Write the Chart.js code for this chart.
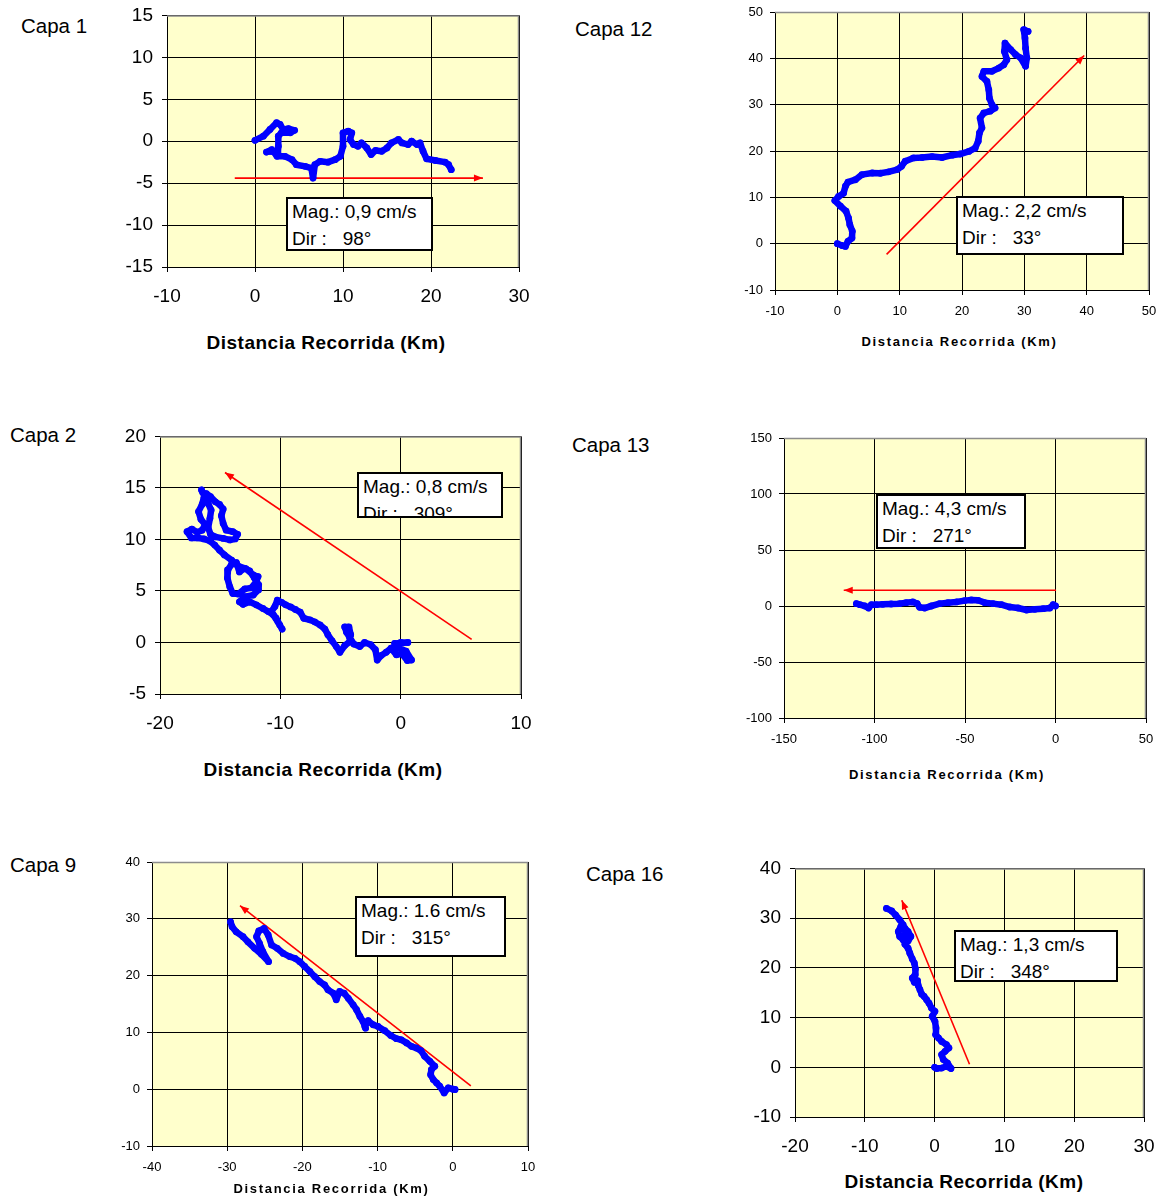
<!DOCTYPE html>
<html>
<head>
<meta charset="utf-8">
<script src="https://cdn.jsdelivr.net/npm/chart.js@4.4.1/dist/chart.umd.min.js"></script>
<style>
  body { margin:0; background:#fff; width:1163px; height:1197px; position:relative; overflow:hidden;
         font-family:'Liberation Sans', Arial, sans-serif; color:#000; }
  canvas { position:absolute; }
  .capa { position:absolute; font-size:20.5px; line-height:20px; white-space:nowrap; }
  .atitle { position:absolute; font-weight:bold; white-space:nowrap; transform:translateX(-50%); }
  .big { font-size:19px; line-height:19px; letter-spacing:0.5px; }
  .small { font-size:13px; line-height:13px; letter-spacing:1.7px; }
  .note { position:absolute; background:#fff; border:2px solid #000; box-sizing:border-box; overflow:hidden;
          font-size:19px; line-height:27px; padding-left:4px; white-space:pre; }
  .note div { position:relative; top:-1px; }
</style>
</head>
<body>
<script>
// ---- Progressive vector paths (km east, km north) ----
const capa1Path = [[0,0.1],[0.95,0.6],[1.7,1.4],[2.45,2.2],[2.85,2.0],[3.2,1.4],[3.8,1.5],[4.5,1.3],[4.0,1.0],[3.0,1.0],[2.65,0.6],[2.65,-0.6],[2.6,-1.4],[1.7,-1.2],[1.3,-1.3],[1.9,-1.0],[2.5,-1.8],[3.4,-1.8],[4.2,-2.2],[4.7,-2.8],[5.7,-3.0],[6.4,-3.2],[6.6,-4.4],[6.8,-2.8],[7.4,-2.4],[8.3,-2.5],[9.1,-2.2],[9.7,-1.8],[10.0,-0.6],[10.0,1.0],[10.6,1.2],[11.0,1.0],[10.8,0.2],[11.2,-0.4],[11.7,-0.6],[12.1,-0.2],[12.7,-0.8],[13.2,-1.6],[13.7,-1.1],[14.4,-1.2],[15.0,-0.8],[15.5,-0.2],[16.3,0.2],[16.7,-0.2],[17.4,-0.4],[17.8,0],[18.4,-0.4],[18.75,-0.2],[19.1,-1.2],[19.5,-2.1],[20.5,-2.3],[21.6,-2.5],[22.0,-2.8],[22.3,-3.4]];

const capa12Path = [[0,0],[0.75,-0.4],[1.3,-0.6],[1.7,0.5],[2.35,1.2],[2.4,2.7],[2.0,4.1],[1.8,5.5],[1.4,7.0],[0.5,8.1],[-0.4,9.3],[0.2,10.2],[1.0,10.9],[1.3,12.4],[1.7,13.3],[2.9,13.8],[3.95,14.9],[5.6,15.25],[6.9,15.2],[8.2,15.5],[9.6,16.0],[10.3,16.7],[10.9,17.8],[12.2,18.5],[13.6,18.6],[15.2,18.8],[16.8,18.6],[18.4,19.1],[19.7,19.35],[21.1,19.9],[22.1,20.6],[22.6,22.1],[22.8,23.9],[23.2,25.0],[22.9,27.1],[23.5,28.2],[24.5,28.6],[25.3,29.3],[24.8,30.0],[24.4,31.4],[24.3,33.2],[24.0,35.0],[23.2,36.1],[23.5,37.2],[24.8,37.2],[25.9,37.9],[26.7,38.6],[27.2,39.7],[26.8,41.5],[26.9,43.3],[27.8,41.9],[28.6,40.8],[29.4,40.1],[30.2,38.3],[30.4,40.1],[30.2,42.2],[30.1,44.4],[29.9,46.2],[30.6,45.8]];

const capa2Path = [[0,0],[0.6,0],[-0.5,-0.1],[-0.1,-0.55],[0.45,-0.85],[0.9,-1.7],[0.55,-1.75],[0.1,-1.1],[-0.35,-1.2],[-0.8,-0.55],[-1.2,-0.95],[-1.6,-1.25],[-1.95,-1.7],[-2.1,-0.7],[-2.5,-0.2],[-3.0,0],[-3.4,-0.4],[-3.9,-0.15],[-4.25,0.5],[-4.5,1.0],[-4.65,1.5],[-4.3,1.5],[-4.15,0.75],[-4.25,0.05],[-4.65,-0.3],[-5.05,-0.95],[-5.35,-0.4],[-5.7,0.15],[-6.05,0.75],[-6.3,1.3],[-6.7,1.7],[-7.15,2.0],[-7.55,2.2],[-8.05,2.35],[-8.35,2.95],[-8.75,3.2],[-9.15,3.45],[-9.55,3.65],[-9.9,3.9],[-10.25,4.1],[-10.45,3.5],[-10.75,3.0],[-10.35,2.35],[-10.05,1.7],[-9.85,1.3],[-10.2,2.0],[-10.6,2.7],[-11.0,3.0],[-11.45,3.3],[-12.0,3.65],[-12.55,3.95],[-13.1,3.7],[-13.4,3.95],[-12.95,4.45],[-12.25,4.6],[-11.85,5.1],[-11.8,5.6],[-12.15,6.25],[-12.55,6.95],[-12.95,7.2],[-13.4,6.85],[-13.65,7.75],[-14.05,7.6],[-14.35,7.05],[-14.4,6.25],[-14.2,5.4],[-13.95,4.75],[-13.5,4.7],[-12.95,5.2],[-12.4,5.3],[-12.0,5.9],[-11.85,6.4],[-12.25,6.55],[-12.85,7.15],[-13.55,7.45],[-14.05,8.0],[-14.65,8.5],[-15.05,8.95],[-15.45,9.45],[-15.85,9.85],[-16.35,10.05],[-16.85,10.15],[-17.4,10.15],[-17.75,10.75],[-17.35,11.0],[-16.9,10.7],[-16.5,10.9],[-16.25,11.45],[-16.6,11.95],[-16.8,12.7],[-16.5,13.4],[-16.35,14.05],[-16.15,14.45],[-15.8,14.15],[-15.4,13.65],[-15.05,13.4],[-14.75,12.95],[-14.9,12.3],[-14.75,11.55],[-14.5,10.9],[-13.95,10.75],[-13.55,10.5],[-13.75,10.05],[-14.2,9.95],[-14.75,10.1],[-15.4,10.25],[-15.8,10.5],[-16.0,11.15],[-15.85,12.05],[-15.75,12.85],[-16.0,13.5],[-16.25,14.15],[-16.45,14.55],[-16.55,14.8]];

const capa13Path = [[0,0],[-1.3,1.2],[-3.1,-1.8],[-6.8,-2.4],[-11.4,-3.0],[-16.0,-3.6],[-20.7,-1.8],[-25.3,-0.9],[-29.9,1.2],[-34.5,2.1],[-39.1,3.0],[-42.8,5.1],[-46.5,5.4],[-50.2,4.8],[-54.8,3.6],[-59.4,3.0],[-64.0,2.1],[-68.6,0],[-72.3,-1.8],[-75.1,-1.2],[-76.4,2.1],[-78.8,3.6],[-82.5,3.0],[-86.2,2.1],[-90.8,1.8],[-95.4,1.5],[-99.1,1.2],[-101.7,1.2],[-103.3,-1.8],[-105.3,0],[-108.1,1.2],[-110.0,2.1]];

const capa9Path = [[0,0],[0.3,-0.05],[-0.6,0.25],[-1.15,-0.65],[-1.75,0.55],[-2.15,1.1],[-2.6,1.7],[-2.95,2.55],[-2.85,3.45],[-2.4,4.05],[-3.05,4.9],[-3.75,5.8],[-4.25,6.8],[-4.85,7.25],[-5.5,7.55],[-6.15,8.15],[-6.85,8.7],[-7.5,8.9],[-8.25,9.45],[-9.05,10.3],[-9.95,11.05],[-10.6,11.35],[-11.25,12.05],[-11.7,11.05],[-11.6,10.75],[-11.95,11.95],[-12.35,12.8],[-12.8,14.0],[-13.25,14.85],[-13.9,16.0],[-14.45,16.9],[-15.05,17.2],[-15.5,15.75],[-15.9,16.9],[-16.6,17.5],[-17.05,18.35],[-17.7,18.95],[-18.35,19.8],[-19.0,20.7],[-19.7,21.6],[-20.35,22.45],[-21.0,23.05],[-21.7,23.35],[-22.55,23.9],[-23.35,24.8],[-24.1,25.4],[-24.55,27.15],[-25.1,28.3],[-25.8,27.85],[-26.1,26.85],[-25.7,25.65],[-25.25,24.2],[-24.5,22.45],[-25.45,23.75],[-26.35,24.8],[-27.25,25.95],[-27.9,26.85],[-28.8,27.7],[-29.35,28.6],[-29.55,29.45]];

const capa16Path = [[0,0],[0.3,-0.25],[1.0,-0.15],[1.7,0.2],[2.35,-0.25],[1.85,0.85],[1.25,1.55],[1.0,2.55],[1.5,3.2],[2.05,3.9],[1.7,4.55],[1.0,5.2],[0.55,5.9],[0.15,6.55],[0.2,7.9],[0.05,9.25],[-0.35,10.25],[0.05,11.25],[-0.45,11.9],[-0.8,12.9],[-1.15,13.6],[-1.5,14.25],[-1.85,14.7],[-2.1,15.6],[-2.35,16.45],[-2.45,17.4],[-2.9,17.1],[-3.2,17.95],[-2.8,18.6],[-2.75,19.8],[-2.9,20.95],[-3.2,21.8],[-3.55,22.95],[-3.8,23.95],[-4.25,24.75],[-3.8,25.4],[-3.4,26.3],[-3.8,27.3],[-4.25,27.95],[-4.85,28.3],[-5.2,27.3],[-5.0,26.3],[-4.5,25.6],[-4.15,26.95],[-4.5,28.65],[-5.0,29.65],[-5.6,30.65],[-6.15,31.45],[-6.9,31.95]];

// ---- Mean-direction arrows (tail, head) ----
const capa1Arrow  = [[-2.3,-4.4],[25.9,-4.4]];
const capa12Arrow = [[7.9,-2.3],[39.6,40.6]];
const capa2Arrow  = [[5.9,0.3],[-14.6,16.5]];
const capa13Arrow = [[0.3,14],[-117,14]];
const capa9Arrow  = [[2.4,0.6],[-28.3,32.3]];
const capa16Arrow = [[5.0,0.6],[-4.7,33.6]];

// ---- Axis ranges: [min, max, step] ----
const capa1XTicks  = [-10, 30, 10],  capa1YTicks  = [-15, 15, 5];
const capa12XTicks = [-10, 50, 10],  capa12YTicks = [-10, 50, 10];
const capa2XTicks  = [-20, 10, 10],  capa2YTicks  = [-5, 20, 5];
const capa13XTicks = [-150, 50, 50], capa13YTicks = [-100, 150, 50];
const capa9XTicks  = [-40, 10, 10],  capa9YTicks  = [-10, 40, 10];
const capa16XTicks = [-20, 30, 10],  capa16YTicks = [-10, 40, 10];

// ---- Labels ----
const capaNames = ['Capa 1', 'Capa 12', 'Capa 2', 'Capa 13', 'Capa 9', 'Capa 16'];
const magTexts  = ['Mag.: 0,9 cm/s', 'Mag.: 2,2 cm/s', 'Mag.: 0,8 cm/s', 'Mag.: 4,3 cm/s', 'Mag.: 1.6 cm/s', 'Mag.: 1,3 cm/s'];
const dirTexts  = ['Dir :   98°', 'Dir :   33°', 'Dir :   309°', 'Dir :   271°', 'Dir :   315°', 'Dir :   348°'];
const axisTitle = 'Distancia Recorrida (Km)';

// ---- Layout of the six panels ----
const panels = [
  { path: capa1Path,  arrow: capa1Arrow,  xr: capa1XTicks,  yr: capa1YTicks,  area: {x:167, y:15,  w:352, h:252}, big: true,
    name: {x:21,  y:26},  title: {x:326,   y:342},  note: {x:286, y:197, w:147, h:54} },
  { path: capa12Path, arrow: capa12Arrow, xr: capa12XTicks, yr: capa12YTicks, area: {x:775, y:12,  w:374, h:278}, big: false,
    name: {x:575, y:29},  title: {x:959.5, y:341},  note: {x:956, y:196, w:168, h:59} },
  { path: capa2Path,  arrow: capa2Arrow,  xr: capa2XTicks,  yr: capa2YTicks,  area: {x:160, y:436, w:361, h:258}, big: true,
    name: {x:10,  y:435}, title: {x:323,   y:769},  note: {x:357, y:472, w:146, h:46} },
  { path: capa13Path, arrow: capa13Arrow, xr: capa13XTicks, yr: capa13YTicks, area: {x:784, y:438, w:362, h:280}, big: false,
    name: {x:572, y:445}, title: {x:947,   y:774},  note: {x:876, y:494, w:150, h:55} },
  { path: capa9Path,  arrow: capa9Arrow,  xr: capa9XTicks,  yr: capa9YTicks,  area: {x:152, y:862, w:376, h:284}, big: false,
    name: {x:10,  y:865}, title: {x:331.5, y:1188}, note: {x:355, y:896, w:151, h:61} },
  { path: capa16Path, arrow: capa16Arrow, xr: capa16XTicks, yr: capa16YTicks, area: {x:795, y:868, w:349, h:249}, big: true,
    name: {x:586, y:874}, title: {x:964,   y:1181}, note: {x:954, y:930, w:164, h:52} }
];

const FONT = "'Liberation Sans', Arial, sans-serif";

// Plot-area fill, grey frame on top/right and arrowheads
const panelDeco = {
  id: 'panelDeco',
  beforeDraw(chart) {
    const a = chart.chartArea, c = chart.ctx;
    c.save();
    c.fillStyle = '#ffffcc';
    c.fillRect(a.left, a.top, a.right - a.left, a.bottom - a.top);
    c.restore();
  },
  afterDatasetsDraw(chart) {
    const c = chart.ctx;
    chart.data.datasets.forEach((ds, i) => {
      if (!ds.arrowHead) return;
      const pts = chart.getDatasetMeta(i).data;
      const p0 = pts[pts.length - 2], p1 = pts[pts.length - 1];
      const ang = Math.atan2(p1.y - p0.y, p1.x - p0.x);
      const len = 9, hw = 3.5;
      const bx = p1.x - len * Math.cos(ang), by = p1.y - len * Math.sin(ang);
      c.save();
      c.fillStyle = ds.borderColor;
      c.beginPath();
      c.moveTo(p1.x, p1.y);
      c.lineTo(bx - hw * Math.sin(ang), by + hw * Math.cos(ang));
      c.lineTo(bx + hw * Math.sin(ang), by - hw * Math.cos(ang));
      c.closePath();
      c.fill();
      c.restore();
    });
  },
  afterDraw(chart) {
    const a = chart.chartArea, c = chart.ctx;
    c.save();
    c.strokeStyle = '#8c8c8c';
    c.lineWidth = 1.5;
    c.beginPath();
    c.moveTo(a.left, a.top + 0.5);
    c.lineTo(a.right - 0.5, a.top + 0.5);
    c.lineTo(a.right - 0.5, a.bottom);
    c.stroke();
    c.restore();
  }
};

function addDiv(cls, text, css) {
  const d = document.createElement('div');
  d.className = cls;
  d.textContent = text;
  Object.assign(d.style, css);
  document.body.appendChild(d);
  return d;
}

function buildPanel(p, i) {
  const LY = 60, TT = 20, RR = 30, BB = 44;
  const cv = document.createElement('canvas');
  cv.width = p.area.w + LY + RR;
  cv.height = p.area.h + TT + BB;
  cv.style.left = (p.area.x - LY) + 'px';
  cv.style.top = (p.area.y - TT) + 'px';
  cv.style.width = cv.width + 'px';
  cv.style.height = cv.height + 'px';
  document.body.appendChild(cv);

  const tickFont = { family: FONT, size: p.big ? 19 : 13 };
  const axis = (r, pad, fit) => ({
    type: 'linear', min: r[0], max: r[1],
    ticks: { stepSize: r[2], font: tickFont, color: '#000', padding: pad, maxRotation: 0, autoSkip: false },
    grid: { color: '#000', lineWidth: 1, tickLength: 5 },
    border: { color: '#000', width: 1 },
    afterFit: fit
  });

  new Chart(cv, {
    type: 'scatter',
    data: {
      datasets: [
        { data: p.path.map(([x, y]) => ({ x, y })), showLine: true, borderColor: '#0000ff', backgroundColor: '#0000ff',
          borderWidth: 6.5, pointRadius: 3.4, pointBorderWidth: 0, borderJoinStyle: 'round', borderCapStyle: 'round', tension: 0 },
        { data: p.arrow.map(([x, y]) => ({ x, y })), showLine: true, borderColor: '#ff0000', backgroundColor: '#ff0000',
          borderWidth: 1.6, pointRadius: 0, arrowHead: true }
      ]
    },
    options: {
      responsive: false, animation: false, devicePixelRatio: 1,
      layout: { padding: { left: 0, top: TT, right: RR, bottom: 0 } },
      plugins: { legend: { display: false }, tooltip: { enabled: false } },
      scales: {
        x: axis(p.xr, p.big ? 13 : 9, s => { s.height = BB; }),
        y: axis(p.yr, p.big ? 9 : 7, s => { s.width = LY; })
      },
      events: []
    },
    plugins: [panelDeco]
  });

  addDiv('capa', capaNames[i], { left: p.name.x + 'px', top: (p.name.y - 10) + 'px' });
  addDiv('atitle ' + (p.big ? 'big' : 'small'), axisTitle,
         { left: p.title.x + 'px', top: (p.title.y - (p.big ? 9.5 : 6.5)) + 'px' });
  const note = document.createElement('div');
  note.className = 'note';
  Object.assign(note.style, { left: p.note.x + 'px', top: p.note.y + 'px', width: p.note.w + 'px', height: p.note.h + 'px' });
  const inner = document.createElement('div');
  inner.textContent = magTexts[i] + '\n' + dirTexts[i];
  note.appendChild(inner);
  document.body.appendChild(note);
}

panels.forEach(buildPanel);
</script>
</body>
</html>
